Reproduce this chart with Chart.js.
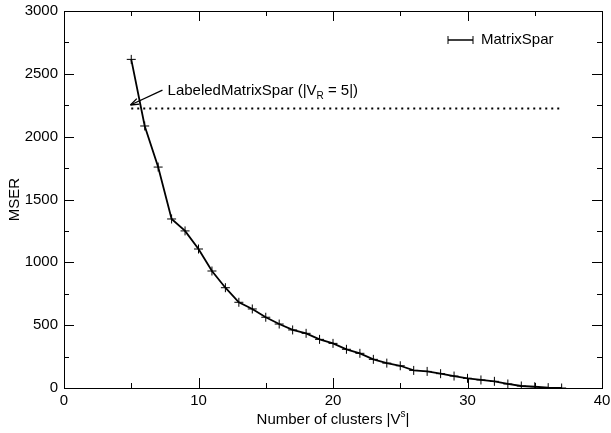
<!DOCTYPE html>
<html>
<head>
<meta charset="utf-8">
<script src="https://cdn.jsdelivr.net/npm/chart.js@4"></script>
<style>
  html, body { margin: 0; padding: 0; background: #fff; }
  #wrap { width: 611px; height: 433px; position: relative; }
</style>
</head>
<body>
<div id="wrap"><canvas id="mserChart"></canvas></div>
<script>
// number of clusters |V^s| and the MSER measured for each
const clusters = [5, 6, 7, 8, 9, 10, 11, 12, 13, 14, 15, 16, 17, 18, 19, 20, 21,
                  22, 23, 24, 25, 26, 27, 28, 29, 30, 31, 32, 33, 34, 35, 36, 37];
const mserValues = [2615, 2085, 1758, 1345, 1250, 1106, 931, 798, 682, 629, 563, 509, 462,
                    435, 387, 355, 308, 276, 228, 198, 177, 140, 132, 114, 95, 77, 64,
                    53, 32, 16, 10, 3, 0];
// LabeledMatrixSpar reference level, drawn across the same range
const labeledX = [5, 37];
const labeledValues = [2225, 2225];

const xTicks = [0, 10, 20, 30, 40];
const yTicks = [0, 500, 1000, 1500, 2000, 2500, 3000];

const FONT = "'Liberation Sans', Arial, sans-serif";
const FS = 15;

const extras = {
    id: 'extras',
    afterDraw(chart) {
        const ctx = chart.ctx;
        const a = chart.chartArea;
        const x = chart.scales.x, y = chart.scales.y;
        ctx.save();
        ctx.strokeStyle = '#000';
        ctx.fillStyle = '#000';
        ctx.lineWidth = 1;

        // frame
        ctx.strokeRect(Math.round(a.left) + 0.5, Math.round(a.top) + 0.5,
            Math.round(a.right - a.left), Math.round(a.bottom - a.top));

        // inward ticks on all four sides
        ctx.beginPath();
        for (let v = 0; v <= 40; v += 5) {
            const px = Math.round(x.getPixelForValue(v)) + 0.5;
            const len = v % 10 === 0 ? 10 : 5;
            ctx.moveTo(px, a.bottom); ctx.lineTo(px, a.bottom - len);
            ctx.moveTo(px, a.top); ctx.lineTo(px, a.top + len);
        }
        for (let v = 0; v <= 3000; v += 250) {
            const py = Math.round(y.getPixelForValue(v)) + 0.5;
            const len = v % 500 === 0 ? 10 : 5;
            ctx.moveTo(a.left, py); ctx.lineTo(a.left + len, py);
            ctx.moveTo(a.right, py); ctx.lineTo(a.right - len, py);
        }
        ctx.stroke();

        ctx.font = FS + 'px ' + FONT;
        ctx.textBaseline = 'alphabetic';

        // x title with superscript
        const t1 = 'Number of clusters |V', sup = 's', t2 = '|';
        ctx.font = FS + 'px ' + FONT;
        const w1 = ctx.measureText(t1).width, w3 = ctx.measureText(t2).width;
        ctx.font = '10px ' + FONT;
        const w2 = ctx.measureText(sup).width;
        const cx = (a.left + a.right) / 2;
        let sx = cx - (w1 + w2 + w3) / 2;
        const by = 424;
        ctx.textAlign = 'left';
        ctx.font = FS + 'px ' + FONT;
        ctx.fillText(t1, sx, by);
        ctx.font = '10px ' + FONT;
        ctx.fillText(sup, sx + w1, by - 7);
        ctx.font = FS + 'px ' + FONT;
        ctx.fillText(t2, sx + w1 + w2, by);

        // y title
        ctx.save();
        ctx.translate(19, (a.top + a.bottom) / 2);
        ctx.rotate(-Math.PI / 2);
        ctx.textAlign = 'center';
        ctx.fillText('MSER', 0, 0);
        ctx.restore();

        // legend
        const ly = a.top + 29;
        const lx0 = a.right - 154, lx1 = a.right - 129;
        ctx.lineWidth = 1.5;
        ctx.beginPath();
        ctx.moveTo(lx0, ly); ctx.lineTo(lx1, ly);
        ctx.stroke();
        ctx.lineWidth = 1;
        ctx.beginPath();
        [lx0, lx1].forEach(px => { ctx.moveTo(px, ly - 4); ctx.lineTo(px, ly + 4); });
        ctx.stroke();
        ctx.textAlign = 'left';
        ctx.textBaseline = 'middle';
        ctx.fillText('MatrixSpar', a.right - 121, ly);

        // annotation with arrow
        const tx = x.getPixelForValue(7.7), ty = y.getPixelForValue(2365);
        const parts = [['LabeledMatrixSpar (|V', FS, 0], ['R', 10, 5], [' = 5|)', FS, 0]];
        let px = tx;
        parts.forEach(([s, size, dy]) => {
            ctx.font = size + 'px ' + FONT;
            ctx.fillText(s, px, ty + dy);
            px += ctx.measureText(s).width;
        });
        const ax0 = x.getPixelForValue(7.32), ay0 = y.getPixelForValue(2371);
        const ax1 = x.getPixelForValue(4.94), ay1 = y.getPixelForValue(2252);
        ctx.lineWidth = 1.3;
        ctx.beginPath();
        ctx.moveTo(ax0, ay0); ctx.lineTo(ax1, ay1);
        ctx.stroke();
        const ang = Math.atan2(ay1 - ay0, ax1 - ax0);
        ctx.beginPath();
        ctx.moveTo(ax1, ay1);
        ctx.lineTo(ax1 - 9 * Math.cos(ang - 0.35), ay1 - 9 * Math.sin(ang - 0.35));
        ctx.moveTo(ax1, ay1);
        ctx.lineTo(ax1 - 9 * Math.cos(ang + 0.35), ay1 - 9 * Math.sin(ang + 0.35));
        ctx.stroke();

        ctx.restore();
    }
};

new Chart(document.getElementById('mserChart'), {
    type: 'line',
    data: {
        datasets: [{
            label: 'MatrixSpar',
            data: clusters.map((c, i) => ({ x: c, y: mserValues[i] })),
            borderColor: '#000',
            borderWidth: 1.8,
            pointStyle: 'cross',
            pointRadius: 4.5,
            pointBorderWidth: 1,
            pointBorderColor: '#000',
            tension: 0,
            fill: false
        }, {
            label: 'LabeledMatrixSpar',
            data: labeledX.map((c, i) => ({ x: c, y: labeledValues[i] })),
            borderColor: '#000',
            borderWidth: 2,
            borderDash: [2, 4],
            pointRadius: 0,
            fill: false
        }]
    },
    options: {
        responsive: true,
        maintainAspectRatio: false,
        devicePixelRatio: 1,
        animation: false,
        events: [],
        layout: { padding: { top: 11, right: 9, left: 0, bottom: 0 } },
        plugins: {
            legend: { display: false },
            tooltip: { enabled: false }
        },
        scales: {
            x: {
                type: 'linear',
                min: 0,
                max: 40,
                afterBuildTicks: s => { s.ticks = xTicks.map(v => ({ value: v })); },
                afterFit: s => { s.height = 45; s.paddingLeft = 0; s.paddingRight = 0; },
                grid: { display: false, drawTicks: false },
                border: { display: true, color: '#000', width: 1 },
                ticks: { color: '#000', font: { family: FONT, size: FS }, padding: 4, maxRotation: 0,
                         callback: v => String(v) }
            },
            y: {
                min: 0,
                max: 3000,
                afterBuildTicks: s => { s.ticks = yTicks.map(v => ({ value: v })); },
                afterFit: s => { s.width = 64; s.paddingTop = 0; s.paddingBottom = 0; },
                grid: { display: false, drawTicks: false },
                border: { display: true, color: '#000', width: 1 },
                ticks: { color: '#000', font: { family: FONT, size: FS }, padding: 6,
                         callback: v => String(v) }
            }
        }
    },
    plugins: [extras]
});
</script>
</body>
</html>
